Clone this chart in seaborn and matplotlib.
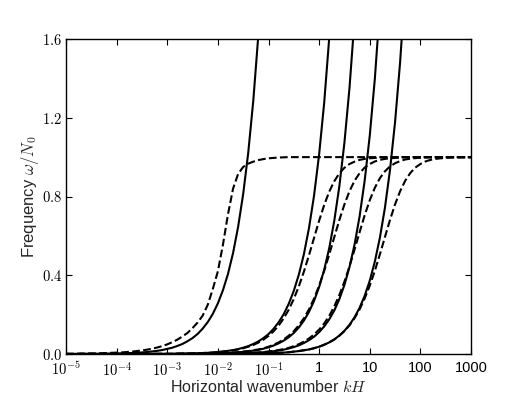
import matplotlib
matplotlib.use('Agg')
import matplotlib.pyplot as plt
import numpy as np
import seaborn as sns

# sampling grid of kH (0.1 decade steps, 1e-5 .. 1e3)
log_kH = np.round(np.arange(-5.0, 3.001, 0.1), 1)
kH = 10.0 ** log_kH

# solid curves (each stops once past the top of the axes)
solid_1 = [0.0, 0.0, 0.0, 0.001, 0.001, 0.001, 0.001, 0.001, 0.002, 0.002,
           0.003, 0.003, 0.004, 0.005, 0.006, 0.008, 0.010, 0.013, 0.016, 0.020,
           0.026, 0.032, 0.041, 0.051, 0.065, 0.081, 0.102, 0.129, 0.162, 0.204,
           0.257, 0.324, 0.407, 0.513, 0.646, 0.813, 1.023, 1.288, 1.622]
solid_2 = [0.0, 0.0, 0.0, 0.0, 0.0, 0.0, 0.0, 0.0, 0.0, 0.0,
           0.0, 0.0, 0.0, 0.0, 0.0, 0.0, 0.0, 0.001, 0.001, 0.001,
           0.001, 0.001, 0.002, 0.002, 0.003, 0.003, 0.004, 0.005, 0.006, 0.008,
           0.010, 0.013, 0.016, 0.020, 0.025, 0.032, 0.040, 0.051, 0.064, 0.081,
           0.101, 0.128, 0.161, 0.202, 0.255, 0.321, 0.404, 0.508, 0.640, 0.805,
           1.014, 1.276, 1.607]
solid_3 = [0.0, 0.0, 0.0, 0.0, 0.0, 0.0, 0.0, 0.0, 0.0, 0.0,
           0.0, 0.0, 0.0, 0.0, 0.0, 0.0, 0.0, 0.0, 0.0, 0.0,
           0.0, 0.0, 0.001, 0.001, 0.001, 0.001, 0.001, 0.002, 0.002, 0.003,
           0.003, 0.004, 0.005, 0.007, 0.009, 0.011, 0.014, 0.017, 0.021, 0.027,
           0.034, 0.043, 0.054, 0.068, 0.085, 0.107, 0.135, 0.170, 0.214, 0.270,
           0.340, 0.428, 0.538, 0.678, 0.853, 1.074, 1.352, 1.702]
solid_4 = [0.0, 0.0, 0.0, 0.0, 0.0, 0.0, 0.0, 0.0, 0.0, 0.0,
           0.0, 0.0, 0.0, 0.0, 0.0, 0.0, 0.0, 0.0, 0.0, 0.0,
           0.0, 0.0, 0.0, 0.0, 0.0, 0.0, 0.0, 0.001, 0.001, 0.001,
           0.001, 0.001, 0.002, 0.002, 0.003, 0.004, 0.004, 0.006, 0.007, 0.009,
           0.011, 0.014, 0.018, 0.022, 0.028, 0.035, 0.044, 0.056, 0.070, 0.088,
           0.111, 0.140, 0.176, 0.221, 0.279, 0.351, 0.442, 0.556, 0.700, 0.881,
           1.109, 1.396, 1.758]
solid_5 = [0.0, 0.0, 0.0, 0.0, 0.0, 0.0, 0.0, 0.0, 0.0, 0.0,
           0.0, 0.0, 0.0, 0.0, 0.0, 0.0, 0.0, 0.0, 0.0, 0.0,
           0.0, 0.0, 0.0, 0.0, 0.0, 0.0, 0.0, 0.0, 0.0, 0.0,
           0.0, 0.0, 0.001, 0.001, 0.001, 0.001, 0.001, 0.002, 0.002, 0.003,
           0.004, 0.005, 0.006, 0.007, 0.009, 0.012, 0.015, 0.019, 0.023, 0.030,
           0.037, 0.047, 0.059, 0.074, 0.094, 0.118, 0.148, 0.187, 0.235, 0.296,
           0.372, 0.469, 0.590, 0.743, 0.935, 1.178, 1.483, 1.866]

# dashed curves, saturating at omega/N0 = 1
dashed_1 = [0.001, 0.001, 0.001, 0.002, 0.002, 0.003, 0.003, 0.004, 0.005, 0.006,
            0.007, 0.008, 0.010, 0.012, 0.015, 0.018, 0.022, 0.027, 0.033, 0.040,
            0.049, 0.060, 0.073, 0.089, 0.107, 0.132, 0.160, 0.195, 0.250, 0.330,
            0.420, 0.555, 0.710, 0.840, 0.915, 0.950, 0.967, 0.977, 0.985, 0.990,
            0.994, 0.996, 0.998, 0.999, 1.0, 1.0, 1.0, 1.0, 1.0, 1.0,
            1.0, 1.0, 1.0, 1.0, 1.0, 1.0, 1.0, 1.0, 1.0, 1.0,
            1.0, 1.0, 1.0, 1.0, 1.0, 1.0, 1.0, 1.0, 1.0, 1.0,
            1.0, 1.0, 1.0, 1.0, 1.0, 1.0, 1.0, 1.0, 1.0, 1.0,
            1.0]
dashed_2 = [0.0, 0.0, 0.0, 0.0, 0.0, 0.0, 0.0, 0.0, 0.0, 0.0,
            0.0, 0.0, 0.0, 0.0, 0.0, 0.0, 0.0, 0.0, 0.001, 0.001,
            0.001, 0.001, 0.001, 0.002, 0.002, 0.003, 0.004, 0.005, 0.006, 0.007,
            0.009, 0.012, 0.015, 0.018, 0.023, 0.029, 0.037, 0.046, 0.058, 0.073,
            0.092, 0.115, 0.144, 0.181, 0.225, 0.280, 0.344, 0.419, 0.502, 0.590,
            0.677, 0.757, 0.825, 0.878, 0.918, 0.946, 0.965, 0.977, 0.986, 0.991,
            0.994, 0.996, 0.998, 0.999, 0.999, 0.999, 1.0, 1.0, 1.0, 1.0,
            1.0, 1.0, 1.0, 1.0, 1.0, 1.0, 1.0, 1.0, 1.0, 1.0,
            1.0]
dashed_3 = [0.0, 0.0, 0.0, 0.0, 0.0, 0.0, 0.0, 0.0, 0.0, 0.0,
            0.0, 0.0, 0.0, 0.0, 0.0, 0.0, 0.0, 0.0, 0.0, 0.0,
            0.0, 0.0, 0.001, 0.001, 0.001, 0.001, 0.001, 0.002, 0.002, 0.003,
            0.004, 0.005, 0.006, 0.007, 0.009, 0.012, 0.015, 0.019, 0.023, 0.029,
            0.037, 0.047, 0.059, 0.074, 0.093, 0.116, 0.146, 0.182, 0.227, 0.282,
            0.347, 0.422, 0.506, 0.594, 0.681, 0.760, 0.827, 0.880, 0.919, 0.947,
            0.965, 0.978, 0.986, 0.991, 0.994, 0.996, 0.998, 0.999, 0.999, 0.999,
            1.0, 1.0, 1.0, 1.0, 1.0, 1.0, 1.0, 1.0, 1.0, 1.0,
            1.0]
dashed_4 = [0.0, 0.0, 0.0, 0.0, 0.0, 0.0, 0.0, 0.0, 0.0, 0.0,
            0.0, 0.0, 0.0, 0.0, 0.0, 0.0, 0.0, 0.0, 0.0, 0.0,
            0.0, 0.0, 0.0, 0.0, 0.0, 0.0, 0.0, 0.001, 0.001, 0.001,
            0.001, 0.002, 0.002, 0.002, 0.003, 0.004, 0.005, 0.006, 0.008, 0.010,
            0.013, 0.016, 0.020, 0.025, 0.031, 0.040, 0.050, 0.063, 0.079, 0.099,
            0.124, 0.155, 0.194, 0.242, 0.300, 0.368, 0.445, 0.531, 0.619, 0.705,
            0.781, 0.844, 0.893, 0.928, 0.953, 0.969, 0.980, 0.988, 0.992, 0.995,
            0.997, 0.998, 0.999, 0.999, 1.0, 1.0, 1.0, 1.0, 1.0, 1.0,
            1.0]
dashed_5 = [0.0, 0.0, 0.0, 0.0, 0.0, 0.0, 0.0, 0.0, 0.0, 0.0,
            0.0, 0.0, 0.0, 0.0, 0.0, 0.0, 0.0, 0.0, 0.0, 0.0,
            0.0, 0.0, 0.0, 0.0, 0.0, 0.0, 0.0, 0.0, 0.0, 0.0,
            0.0, 0.0, 0.001, 0.001, 0.001, 0.001, 0.001, 0.002, 0.002, 0.003,
            0.004, 0.005, 0.006, 0.007, 0.009, 0.012, 0.015, 0.019, 0.023, 0.029,
            0.037, 0.047, 0.059, 0.074, 0.093, 0.116, 0.146, 0.182, 0.227, 0.282,
            0.347, 0.422, 0.506, 0.594, 0.681, 0.760, 0.827, 0.880, 0.919, 0.947,
            0.965, 0.978, 0.986, 0.991, 0.994, 0.996, 0.998, 0.999, 0.999, 0.999,
            1.0]

x_ticks = [1e-5, 1e-4, 1e-3, 1e-2, 1e-1, 1, 10, 100, 1000]
x_tick_labels = ['$10^{-5}$', '$10^{-4}$', '$10^{-3}$', '$10^{-2}$', '$10^{-1}$',
                 '1', '10', '100', '1000']
y_ticks = [0.0, 0.4, 0.8, 1.2, 1.6]
y_tick_labels = ['$0.0$', '$0.4$', '$0.8$', '$1.2$', '$1.6$']

sns.set_style('ticks', {'xtick.direction': 'in', 'ytick.direction': 'in',
                        'axes.edgecolor': 'black'})
plt.rcParams['font.family'] = ['Liberation Sans', 'DejaVu Sans']
plt.rcParams['mathtext.fontset'] = 'cm'

fig = plt.figure(figsize=(5.23, 3.95), dpi=100)
ax = fig.add_axes([66 / 523, 41 / 395, 405 / 523, 315 / 395])

for vals in [solid_1, solid_2, solid_3, solid_4, solid_5]:
    sns.lineplot(x=kH[:len(vals)], y=vals, color='black', linewidth=1.5,
                 estimator=None, ax=ax)
for vals in [dashed_1, dashed_2, dashed_3, dashed_4, dashed_5]:
    sns.lineplot(x=kH[:len(vals)], y=vals, color='black', linewidth=1.5,
                 linestyle='--', estimator=None, ax=ax)

ax.set_xscale('log')
ax.set_xlim(1e-5, 1e3)
ax.set_ylim(0, 1.6)
ax.set_xticks(x_ticks)
ax.set_xticklabels(x_tick_labels)
ax.minorticks_off()
ax.set_yticks(y_ticks)
ax.set_yticklabels(y_tick_labels)
ax.tick_params(which='both', top=True, right=True, direction='in', length=4,
               width=0.8, labelsize=10.5, colors='black')
ax.tick_params(axis='x', pad=5)
ax.tick_params(axis='y', pad=3)
for sp in ax.spines.values():
    sp.set_linewidth(1.0)

ax.set_xlabel('Horizontal wavenumber $kH$', fontsize=11.5, labelpad=0)
ax.set_ylabel(r'Frequency $\omega/N_0$', fontsize=12, labelpad=0.5)

fig.savefig('out.png', dpi=100)
